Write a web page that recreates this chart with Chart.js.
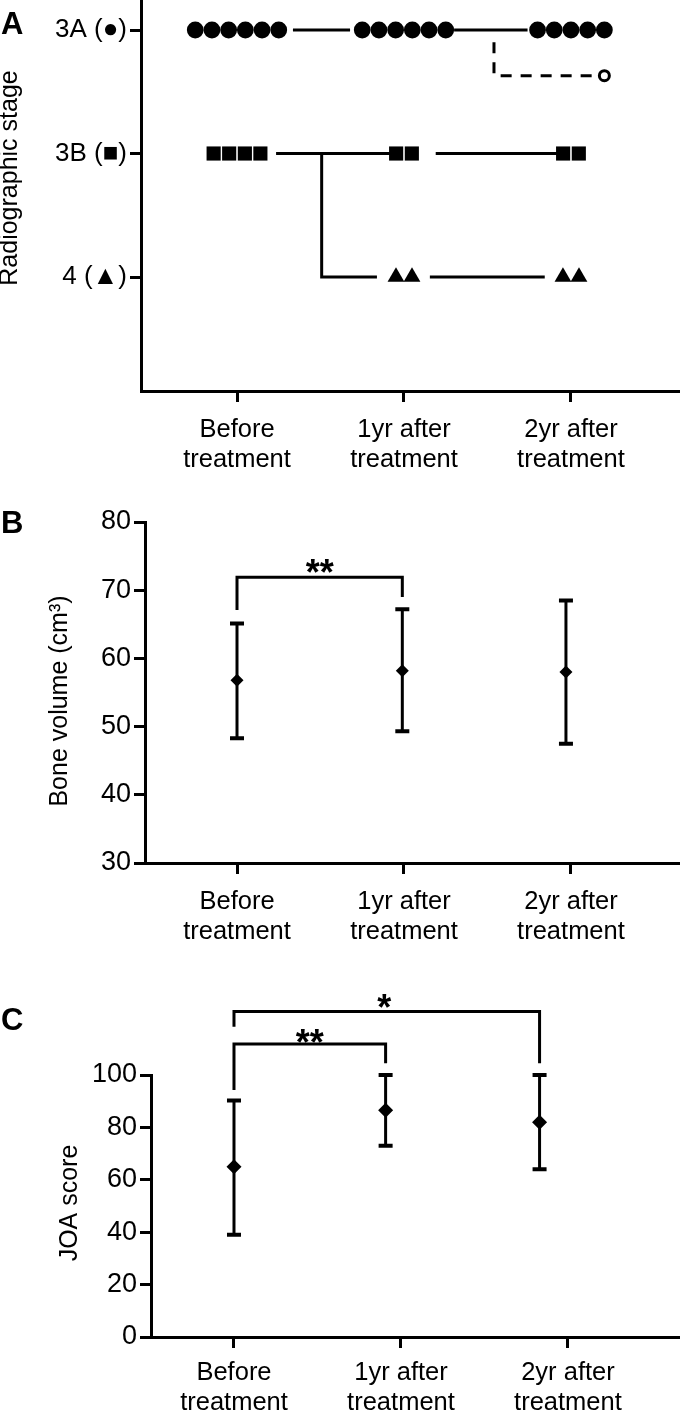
<!DOCTYPE html>
<html>
<head>
<meta charset="utf-8">
<script src="https://cdn.jsdelivr.net/npm/chart.js@4.4.1/dist/chart.umd.min.js"></script>
<style>
  html, body { margin: 0; padding: 0; background: #fff; }
  body { position: relative; width: 680px; height: 1412px; overflow: hidden; font-family: 'Liberation Sans', Arial, sans-serif; }
  .panel { position: absolute; left: 0; width: 680px; }
  .letter { position: absolute; left: 1px; font-weight: bold; font-size: 31px; line-height: 1; color: #000; }
</style>
</head>
<body>
<div class="panel" style="top:0;height:480px"><canvas id="stageChart" width="680" height="480"></canvas></div>
<div class="panel" style="top:480px;height:480px"><canvas id="boneChart" width="680" height="480"></canvas></div>
<div class="panel" style="top:960px;height:452px"><canvas id="joaChart" width="680" height="452"></canvas></div>
<div class="letter" style="top:8px">A</div>
<div class="letter" style="top:507px">B</div>
<div class="letter" style="top:1004px">C</div>

<script>
// --- Data ---
const timeTicks = [0, 1, 2];
const timepoints = [['Before', 'treatment'], ['1yr after', 'treatment'], ['2yr after', 'treatment']];

// A: one mark per patient, x = timepoint (+ spread so marks sit side by side), y = stage level
const stageLevels = [1, 2, 3];
const stageNames = ['4 (▲)', '3B (■)', '3A (●)'];
const stage3AX = [-0.25, -0.15, -0.05, 0.05, 0.15, 0.25, 0.75, 0.85, 0.95, 1.05, 1.15, 1.25, 1.8, 1.9, 2.0, 2.1, 2.2];
const stage3BX = [-0.14, -0.047, 0.047, 0.14, 0.953, 1.047, 1.953, 2.047];
const stage4X = [0.952, 1.048, 1.952, 2.048];
const dropoutX = [2.2];
const dropoutY = [2.63];
// transition lines between timepoints
const stagePathsX = [[0.335, 0.677], [1.30, 1.74], [0.234, 0.953], [1.19, 1.93], [0.507, 0.507, 0.838], [1.155, 1.843]];
const stagePathsY = [[3, 3], [3, 3], [2, 2], [2, 2], [2, 1, 1], [1, 1]];
const dropoutPathX = [1.539, 1.539, 2.16];
const dropoutPathY = [2.9, 2.63, 2.63];

// B: bone volume (cm3), mean with range bars
const boneX = [0, 0.99, 1.97];
const boneMean = [56.8, 58.2, 58.0];
const boneHigh = [65.1, 67.2, 68.5];
const boneLow = [48.3, 49.3, 47.5];
const boneBracketX = [0, 0, 0.99, 0.99];
const boneBracketY = [67.1, 71.9, 71.9, 69.0];
const boneStars = ['**'];
const boneStarsX = [0.495];
const boneStarsY = [73.7];

// C: JOA score
const joaX = [0, 0.908, 1.83];
const joaMean = [65, 86.5, 82];
const joaHigh = [90.3, 100, 100];
const joaLow = [39, 73, 64];
const joaBracket1X = [0, 0, 0.908, 0.908];
const joaBracket1Y = [94.3, 111.8, 111.8, 104.5];
const joaBracket2X = [0, 0, 1.83, 1.83];
const joaBracket2Y = [118.4, 124.2, 124.2, 104.5];
const joaStars = ['**', '*'];
const joaStarsX = [0.454, 0.9];
const joaStarsY = [115.3, 128.9];

// --- Chart defaults ---
const FONT = "'Liberation Sans', Arial, sans-serif";
Chart.defaults.font.family = FONT;
Chart.defaults.color = '#000';
Chart.defaults.animation = false;
Chart.defaults.events = [];
Chart.defaults.plugins.legend.display = false;
Chart.defaults.plugins.tooltip.enabled = false;

const zip = (xs, ys) => xs.map((x, i) => ({ x: x, y: ys[i] }));

function fixSize(size, horizontal) {
    return function (scale) {
        if (horizontal) scale.height = size; else scale.width = size;
        scale.paddingTop = 0; scale.paddingBottom = 0;
        scale.paddingLeft = 0; scale.paddingRight = 0;
    };
}

function timeAxis(min, max, height, pad) {
    return {
        type: 'linear', min: min, max: max,
        afterBuildTicks: s => { s.ticks = timeTicks.map(v => ({ value: v })); },
        afterFit: fixSize(height, true),
        border: { display: true, color: '#000', width: 3 },
        grid: { drawOnChartArea: false, drawTicks: true, tickLength: 11, tickWidth: 3, tickColor: '#000' },
        ticks: { autoSkip: false, maxRotation: 0, padding: pad, font: { size: 25.5, lineHeight: 1.18 },
                 callback: v => timepoints[v] }
    };
}

function valueAxis(min, max, tickVals, labelFn, width, fontSize) {
    return {
        type: 'linear', min: min, max: max,
        afterBuildTicks: s => { s.ticks = tickVals.map(v => ({ value: v })); },
        afterFit: fixSize(width, false),
        border: { display: true, color: '#000', width: 3 },
        grid: { drawOnChartArea: false, drawTicks: true, tickLength: 11, tickWidth: 3, tickColor: '#000' },
        ticks: { padding: 3, font: { size: fontSize }, callback: labelFn }
    };
}

function marks(xs, ys, style, radius, fill, border) {
    return {
        data: zip(xs, ys), showLine: false, pointStyle: style, pointRadius: radius,
        backgroundColor: fill || '#000', borderColor: '#000', borderWidth: border || 0, clip: false
    };
}

function path(xs, ys, dash) {
    return {
        data: zip(xs, ys), showLine: true, pointRadius: 0, borderColor: '#000', borderWidth: 3,
        borderDash: dash || [], borderJoinStyle: 'miter', fill: false, clip: false
    };
}

// --- Plugins: range bars, significance stars, rotated axis title ---
const rangeBars = {
    id: 'rangeBars',
    beforeDatasetsDraw(chart) {
        const { ctx, scales: { x, y } } = chart;
        chart.data.datasets.forEach(ds => {
            if (!ds.errLow) return;
            ctx.save();
            ctx.strokeStyle = '#000';
            ds.data.forEach((p, i) => {
                const px = x.getPixelForValue(p.x);
                const top = y.getPixelForValue(ds.errHigh[i]);
                const bot = y.getPixelForValue(ds.errLow[i]);
                ctx.lineWidth = 3;
                ctx.beginPath();
                ctx.moveTo(px, top); ctx.lineTo(px, bot);
                ctx.stroke();
                ctx.lineWidth = 4;
                ctx.beginPath();
                ctx.moveTo(px - 7, top); ctx.lineTo(px + 7, top);
                ctx.moveTo(px - 7, bot); ctx.lineTo(px + 7, bot);
                ctx.stroke();
            });
            ctx.restore();
        });
    }
};

const sigStars = {
    id: 'sigStars',
    afterDatasetsDraw(chart, args, opts) {
        const { ctx, scales: { x, y } } = chart;
        const size = 36;
        ctx.save();
        ctx.fillStyle = '#000';
        ctx.font = 'bold ' + size + 'px ' + FONT;
        ctx.textAlign = 'center';
        ctx.textBaseline = 'alphabetic';
        (opts.texts || []).forEach((t, i) => {
            const px = x.getPixelForValue(opts.xs[i]);
            const py = y.getPixelForValue(opts.ys[i]);
            ctx.fillText(t, px, py + 0.57 * size);
        });
        ctx.restore();
    }
};

const sideTitle = {
    id: 'sideTitle',
    afterDraw(chart, args, opts) {
        const { ctx, chartArea } = chart;
        ctx.save();
        ctx.translate(opts.x, (chartArea.top + chartArea.bottom) / 2 + opts.shift);
        ctx.rotate(-Math.PI / 2);
        ctx.fillStyle = '#000';
        ctx.font = '25px ' + FONT;
        ctx.textAlign = 'center';
        ctx.textBaseline = 'middle';
        ctx.fillText(opts.text, 0, 0);
        ctx.restore();
    }
};

// --- Panel A ---
const stageDatasets = stagePathsX.map((xs, i) => path(xs, stagePathsY[i]));
stageDatasets.push(path(dropoutPathX, dropoutPathY, [11, 9]));
stageDatasets.push(marks(stage3AX, stage3AX.map(() => 3), 'circle', 8.4));
stageDatasets.push(marks(stage3BX, stage3BX.map(() => 2), 'rect', 10));
stageDatasets.push(marks(stage4X, stage4X.map(() => 1), 'triangle', 9.7));
stageDatasets.push(marks(dropoutX, dropoutY, 'circle', 5, '#fff', 3));

new Chart(document.getElementById('stageChart'), {
    type: 'scatter',
    data: { datasets: stageDatasets },
    options: {
        responsive: false,
        layout: { autoPadding: false, padding: 0 },
        plugins: { sideTitle: { text: 'Radiographic stage', x: 10.5, shift: -17.5 } },
        scales: {
            x: timeAxis(-0.575, 2.653, 89, 13),
            y: valueAxis(0.077, 3.243, stageLevels, v => stageNames[stageLevels.indexOf(v)], 141, 26)
        }
    },
    plugins: [sideTitle]
});

// --- Panel B ---
const boneDiamonds = marks(boneX, boneMean, 'rectRot', 6.5);
boneDiamonds.errHigh = boneHigh;
boneDiamonds.errLow = boneLow;

new Chart(document.getElementById('boneChart'), {
    type: 'scatter',
    data: { datasets: [path(boneBracketX, boneBracketY), boneDiamonds] },
    options: {
        responsive: false,
        layout: { autoPadding: false, padding: { top: 42, left: 0, right: 0, bottom: 0 } },
        plugins: {
            sigStars: { texts: boneStars, xs: boneStarsX, ys: boneStarsY },
            sideTitle: { text: 'Bone volume (cm³)', x: 60.5, shift: 8.5 }
        },
        scales: {
            x: timeAxis(-0.551, 2.653, 97, 13),
            y: valueAxis(30, 80, [30, 40, 50, 60, 70, 80], v => v, 145, 27)
        }
    },
    plugins: [rangeBars, sigStars, sideTitle]
});

// --- Panel C ---
const joaDiamonds = marks(joaX, joaMean, 'rectRot', 7.5);
joaDiamonds.errHigh = joaHigh;
joaDiamonds.errLow = joaLow;

new Chart(document.getElementById('joaChart'), {
    type: 'scatter',
    data: { datasets: [path(joaBracket1X, joaBracket1Y), path(joaBracket2X, joaBracket2Y), joaDiamonds] },
    options: {
        responsive: false,
        layout: { autoPadding: false, padding: { top: 115, left: 0, right: 0, bottom: 0 } },
        plugins: {
            sigStars: { texts: joaStars, xs: joaStarsX, ys: joaStarsY },
            sideTitle: { text: 'JOA score', x: 70.5, shift: -3 }
        },
        scales: {
            x: timeAxis(-0.497, 2.671, 75, 10),
            y: valueAxis(0, 100, [0, 20, 40, 60, 80, 100], v => v, 151, 27)
        }
    },
    plugins: [rangeBars, sigStars, sideTitle]
});
</script>
</body>
</html>
